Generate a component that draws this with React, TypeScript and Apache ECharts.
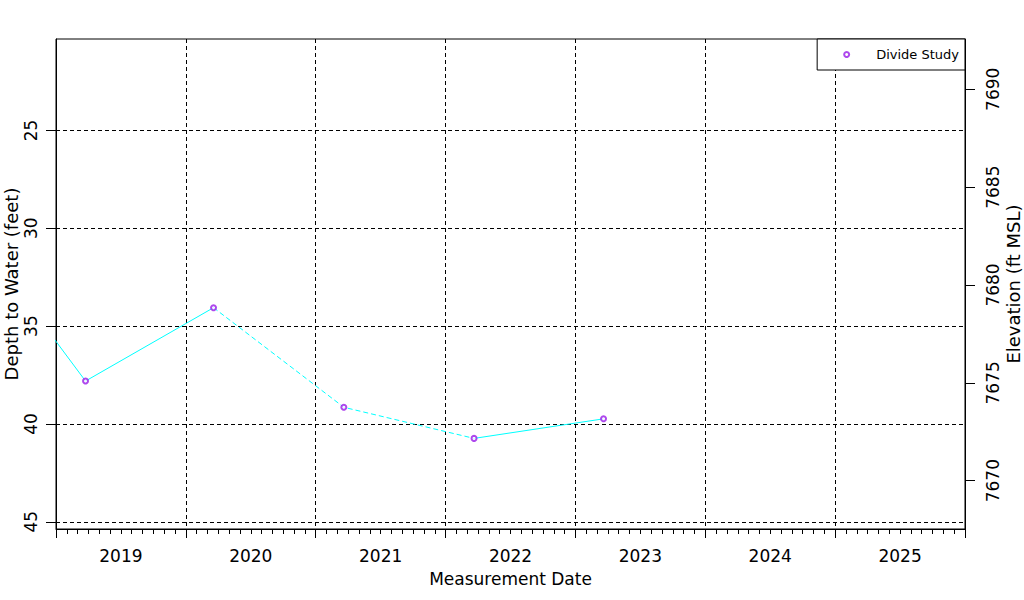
import React, { useEffect, useRef } from "react";
import * as echarts from "echarts";

// ---- Data ----
const measurementDates = ["2018-03-25", "2019-03-25", "2020-03-19", "2021-03-21", "2022-03-22", "2023-03-21"];
const depthToWater = [28.9, 37.81, 34.06, 39.15, 40.74, 39.74];
const solidSegmentA = [0, 1, 2];
const dashedSegment = [2, 3, 4];
const solidSegmentB = [4, 5];
const yearLabels = ["2019", "2020", "2021", "2022", "2023", "2024", "2025"];
const depthTicks = [25, 30, 35, 40, 45];
const elevationTicks = [7670, 7675, 7680, 7685, 7690];
const elevationDatum = 7712.9; // elevation = datum - depth
const depthRange = [20.33, 45.37];
const yearRange = [2019, 2026];

const FONT = "DejaVu Sans";

function decimalYear(s: string): number {
  const [y, m, d] = s.split("-").map(Number);
  const t = Date.UTC(y, m - 1, d);
  const a = Date.UTC(y, 0, 1);
  const b = Date.UTC(y + 1, 0, 1);
  return y + (t - a) / (b - a);
}

const xs = measurementDates.map(decimalYear);
const seg = (idx: number[]) => idx.map((i) => [xs[i], depthToWater[i]]);

export default function App() {
  const ref = useRef<HTMLDivElement>(null);
  useEffect(() => {
    if (!ref.current) return;
    const chart = echarts.init(ref.current, null, { renderer: "svg" });
    const black = "#000";
    const dash = [4, 3];
    const labelStyle = { fontFamily: FONT, fontSize: 17, color: black };
    const titleStyle = { fontFamily: FONT, fontSize: 18, color: black };
    chart.setOption({
      animation: false,
      backgroundColor: "#fff",
      textStyle: { fontFamily: FONT },
      grid: {
        left: 56,
        top: 39,
        width: 909,
        height: 490,
        show: true,
        borderColor: black,
        borderWidth: 1,
        backgroundColor: "#fff",
        containLabel: false,
        outerBoundsMode: "none",
      },
      legend: {
        data: ["Divide Study"],
        right: 59,
        top: 39,
        orient: "vertical",
        backgroundColor: "#fff",
        borderColor: black,
        borderWidth: 1,
        borderRadius: 0,
        padding: [9, 6, 9, 26],
        itemWidth: 5,
        itemHeight: 5,
        itemGap: 0,
        textStyle: { fontFamily: FONT, fontSize: 13, color: black, padding: [0, 0, 0, 22] },
      },
      xAxis: {
        type: "value",
        min: yearRange[0],
        max: yearRange[1],
        interval: 1,
        axisLine: { show: true, onZero: false, lineStyle: { color: black, width: 1 } },
        axisTick: { show: true, length: 9, lineStyle: { color: black } },
        minorTick: { show: true, splitNumber: 12, length: 5, lineStyle: { color: black } },
        splitLine: { show: true, lineStyle: { color: black, type: dash, width: 1 } },
        axisLabel: {
          ...labelStyle,
          customValues: yearLabels.map((y) => Number(y) + 0.5),
          formatter: (v: number) => String(Math.floor(v)),
          margin: 18,
        },
        name: "Measurement Date",
        nameLocation: "middle",
        nameGap: 41,
        nameTextStyle: labelStyle,
      },
      yAxis: [
        {
          type: "value",
          position: "left",
          inverse: true,
          min: depthRange[0],
          max: depthRange[1],
          axisLine: { show: true, onZero: false, lineStyle: { color: black, width: 1 } },
          axisTick: { show: true, length: 10, customValues: depthTicks, lineStyle: { color: black } },
          splitLine: { show: true, lineStyle: { color: black, type: dash, width: 1 } },
          axisLabel: {
            ...labelStyle,
            customValues: depthTicks,
            rotate: 90,
            margin: 17,
            formatter: (v: number) => String(v),
          },
          name: "Depth to Water (feet)",
          nameLocation: "middle",
          nameRotate: 90,
          nameGap: 36,
          nameMoveOverlap: false,
          nameTextStyle: titleStyle,
        },
        {
          type: "value",
          position: "right",
          min: elevationDatum - depthRange[1],
          max: elevationDatum - depthRange[0],
          axisLine: { show: true, onZero: false, lineStyle: { color: black, width: 1 } },
          axisTick: { show: true, length: 10, customValues: elevationTicks, lineStyle: { color: black } },
          splitLine: { show: false },
          axisLabel: {
            ...labelStyle,
            customValues: elevationTicks,
            rotate: 90,
            margin: 19,
            formatter: (v: number) => String(v),
          },
          name: "Elevation (ft MSL)",
          nameLocation: "middle",
          nameRotate: 90,
          nameGap: 39,
          nameMoveOverlap: false,
          nameTextStyle: titleStyle,
        },
      ],
      series: [
        {
          name: "segA",
          type: "line",
          data: seg(solidSegmentA),
          symbol: "none",
          lineStyle: { color: "#00FFFF", width: 1, type: "solid" },
          clip: true,
          silent: true,
        },
        {
          name: "segB",
          type: "line",
          data: seg(dashedSegment),
          symbol: "none",
          lineStyle: { color: "#00FFFF", width: 1, type: [5, 3] },
          clip: true,
          silent: true,
        },
        {
          name: "segC",
          type: "line",
          data: seg(solidSegmentB),
          symbol: "none",
          lineStyle: { color: "#00FFFF", width: 1, type: "solid" },
          clip: true,
          silent: true,
        },
        {
          name: "Divide Study",
          type: "scatter",
          data: seg([0, 1, 2, 3, 4, 5]),
          symbol: "emptyCircle",
          symbolSize: 5,
          itemStyle: { color: "#9A1AE8", borderColor: "#9A1AE8", borderWidth: 1 },
          clip: true,
          z: 5,
        },
      ],
    });
    return () => chart.dispose();
  }, []);
  return (
    <div
      ref={ref}
      style={{ position: "fixed", left: 0, top: 0, width: 1024, height: 600, background: "#fff" }}
    />
  );
}
